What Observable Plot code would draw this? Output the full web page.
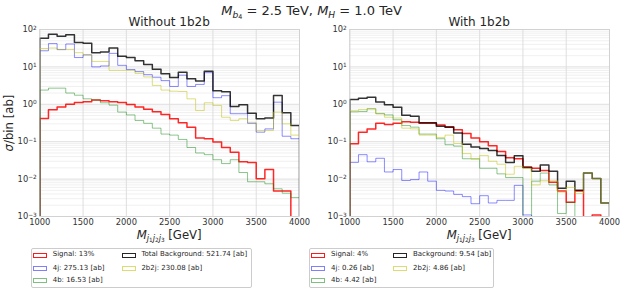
<!DOCTYPE html>
<html><head><meta charset="utf-8">
<script src="https://cdn.jsdelivr.net/npm/d3@7"></script>
<script src="https://cdn.jsdelivr.net/npm/@observablehq/plot@0.6"></script>
<style>
html,body{margin:0;padding:0;background:#fff;}
#fig{position:relative;width:623px;height:292px;font-family:"DejaVu Sans",sans-serif;color:#262626;overflow:hidden;background:#fff;}
.abs{position:absolute;white-space:nowrap;line-height:1;}
.s1{font-size:70%;position:relative;top:0.28em;}
.s2{font-size:70%;position:relative;top:0.2em;}
.leg{position:absolute;border:1px solid #cccccc;border-radius:2px;background:rgba(255,255,255,0.8);box-sizing:border-box;}
.lh{position:absolute;width:14px;height:5px;box-sizing:border-box;border-width:1px;border-style:solid;}
.lt{position:absolute;font-size:7px;line-height:1;white-space:nowrap;color:#262626;font-family:"DejaVu Sans";}
</style></head>
<body>
<div id="fig"></div>
<script>
// ---------- data ----------
const binEdges = [1000,1100,1200,1300,1400,1500,1600,1700,1800,1900,2000,2100,2200,2300,2400,2500,2600,2700,2800,2900,3000,3100,3200,3300,3400,3500,3600,3700,3800,3900,4000];

// Left panel: Without 1b2b
const sigWithout  = [0.42,0.72,0.85,1.0,1.11,1.17,1.3,1.24,1.17,1.11,0.99,0.85,0.74,0.63,0.53,0.41,0.32,0.245,0.126,0.12,0.098,0.07,0.052,0.029,0.028,0.0102,0.018,0.0048,0.0048,0];
const j4Without   = [27,42,29,41,17.8,21,10,10.6,23,11,8.5,7.5,6.2,5.3,4.3,3.0,6.0,3.0,3.4,7.0,1.5,1.7,0.56,0.56,0.31,0.18,0.22,1.14,0.14,0.12];
const b4Without   = [2.4,2.7,2.7,2.0,1.75,1.4,1.3,1.1,0.95,0.62,0.52,0.37,0.31,0.23,0.16,0.15,0.115,0.07,0.05,0.045,0.033,0.026,0.033,0.015,0.0085,0.0085,0.0075,0.0055,0.0042,0.0032];
const bkgWithout  = [58,75,66,72,45,43,24,25,32,19.4,17.9,14.5,11.6,8.7,6.6,5.2,7.2,4.8,4.2,7.7,2.3,2.15,0.87,0.97,0.58,0.41,0.43,1.72,0.59,0.27];
const b2j2Without = [31,32,29,29,24,21,14,14,8.1,8.1,8.1,6.7,5.4,3.2,2.4,2.24,2.2,1.4,0.68,1.1,0.93,0.45,0.37,0.41,0.33,0.2,0.2,0.62,0.3,0.15];

// Right panel: With 1b2b
const sigWith  = [0.088,0.18,0.22,0.31,0.29,0.31,0.34,0.33,0.31,0.31,0.28,0.25,0.21,0.165,0.125,0.1,0.078,0.055,0.037,0.035,0.021,0.0195,0.017,0.0083,0.0048,0.0024,0.0048,0,0.0011,0];
const j4With   = [0.028,0.045,0.029,0.036,0.0155,0.018,0.0092,0.0097,0.0155,0.0088,0.005,0.0048,0.0039,0.0034,0.0022,0.0036,0.0023,0.0027,0.0027,0.0068,0.0011,0,0,0,0,0,0,0,0,0];
const b4With   = [0.63,0.64,0.76,0.57,0.52,0.385,0.27,0.245,0.16,0.16,0.12,0.083,0.076,0.035,0.035,0.0195,0.0195,0.0138,0.011,0.011,0,0.0088,0.0145,0.007,0.0012,0.0024,0,0,0,0];
const bkgWith  = [1.34,1.45,1.55,1.15,0.98,0.83,0.51,0.48,0.32,0.32,0.26,0.245,0.17,0.085,0.072,0.066,0.058,0.043,0.028,0.042,0.0205,0.0163,0.024,0.0163,0.0057,0.0087,0.005,0.0146,0.0104,0.0023];
const b2j2With = [0.67,0.72,0.76,0.55,0.45,0.43,0.23,0.22,0.15,0.15,0.13,0.15,0.09,0.048,0.034,0.043,0.03,0.025,0.0135,0.022,0.0195,0.007,0.009,0.009,0.0045,0.006,0.0041,0.0146,0.0104,0.0023];

// ticks / labels
const xTicks = [1000,1500,2000,2500,3000,3500,4000];
const yTicks = [1e-3,1e-2,1e-1,1,10,100];
const yTickExps = ["\u22123","\u22122","\u22121","0","1","2"];
const legendWithout = ["Signal: 13%","4j: 275.13 [ab]","4b: 16.53 [ab]","Total Background: 521.74 [ab]","2b2j: 230.08 [ab]"];
const legendWith    = ["Signal: 4%","4j: 0.26 [ab]","4b: 4.42 [ab]","Background: 9.54 [ab]","2b2j: 4.86 [ab]"];

// ---------- styling ----------
const styles = {
  sig:  {stroke:"#ff0000", strokeWidth:1.5, strokeOpacity:0.85},
  j4:   {stroke:"#0000ff", strokeWidth:1,   strokeOpacity:0.45},
  b4:   {stroke:"#008000", strokeWidth:1,   strokeOpacity:0.45},
  bkg:  {stroke:"#000000", strokeWidth:1.5, strokeOpacity:0.8},
  b2j2: {stroke:"#bfbf00", strokeWidth:1,   strokeOpacity:0.5}
};
const FLOOR = 1e-5;
const minorY = [];
for (let e = -3; e < 2; e++) for (let m = 2; m <= 9; m++) minorY.push(m * Math.pow(10, e));
const tickExp = new Map(yTicks.map((t, i) => [t, yTickExps[i]]));

function steps(vals) {
  const pts = [{x: binEdges[0], y: FLOOR}];
  vals.forEach((v, i) => {
    const y = v > 0 ? v : FLOOR;
    pts.push({x: binEdges[i], y}, {x: binEdges[i + 1], y});
  });
  pts.push({x: binEdges[binEdges.length - 1], y: FLOOR});
  return pts;
}

function panel(series, width, marginRight) {
  const order = ["sig","j4","b4","bkg","b2j2"];
  const svg = Plot.plot({
    width, height: 245,
    marginLeft: 39.3, marginRight, marginTop: 29, marginBottom: 29,
    x: {domain: [1000, 4000], label: null},
    y: {type: "log", domain: [1e-3, 1e2], label: null},
    style: {fontFamily: "DejaVu Sans", fontSize: "8.33px", color: "#333", background: "transparent", overflow: "visible"},
    marks: [
      Plot.ruleY(minorY, {stroke: "#e9e9e9", strokeWidth: 0.7}),
      Plot.ruleY(yTicks, {stroke: "#d6d6d6", strokeWidth: 0.8}),
      Plot.ruleX(xTicks, {stroke: "#dadada", strokeWidth: 0.9}),
      ...order.map(k => Plot.line(steps(series[k]), {x: "x", y: "y", ...styles[k], clip: true})),
      Plot.frame({stroke: "#cfcfcf", strokeWidth: 0.8}),
      Plot.axisX({ticks: xTicks, tickSize: 0, tickPadding: 3, tickFormat: d => String(d), label: null}),
      Plot.axisY({ticks: yTicks, tickSize: 0, tickPadding: 3, tickFormat: d => "10^" + tickExp.get(d), label: null})
    ]
  });
  // render exponents as real superscripts
  d3.select(svg).selectAll("text").each(function() {
    const s = this.textContent;
    if (s.startsWith("10^")) {
      const sel = d3.select(this);
      sel.text("10");
      sel.append("tspan").attr("dy", "-0.45em").attr("font-size", "70%").text(s.slice(3));
    }
  });
  return svg;
}

const fig = document.getElementById("fig");

function place(el, left, top) {
  el.style.position = "absolute";
  el.style.left = left + "px";
  el.style.top = top + "px";
  fig.appendChild(el);
}

place(panel({sig: sigWithout, j4: j4Without, b4: b4Without, bkg: bkgWithout, b2j2: b2j2Without}, 310, 11), 0, 0);
place(panel({sig: sigWith, j4: j4With, b4: b4With, bkg: bkgWith, b2j2: b2j2With}, 313, 14), 310, 0);

function text(html, left, top, size, center) {
  const d = document.createElement("div");
  d.className = "abs";
  d.style.fontSize = size + "px";
  d.innerHTML = html;
  d.style.left = left + "px";
  d.style.top = top + "px";
  if (center) d.style.transform = "translateX(-50%)";
  fig.appendChild(d);
  return d;
}

text('<i>M</i><span class="s1"><i>b</i><span class="s2">4</span></span> = 2.5 TeV, <i>M</i><span class="s1"><i>H</i></span> = 1.0 TeV', 311.5, 4.3, 13, true);
text('Without 1b2b', 169.2, 15.6, 12, true);
text('With 1b2b', 479.2, 15.6, 12, true);
const xl = '<i>M</i><span class="s1"><i>j</i><span class="s2">1</span><i>j</i><span class="s2">2</span><i>j</i><span class="s2">3</span></span> [GeV]';
text(xl, 169.2, 230, 11.7, true);
text(xl, 479.2, 230, 11.7, true);
const yl = text('<i>\u03C3</i>/bin [ab]', 10, 122.5, 11.7, false);
yl.style.transform = "translate(-50%,-50%) rotate(-90deg)";

function legend(labels, left, width, col2Off) {
  const box = document.createElement("div");
  box.className = "leg";
  box.style.left = left + "px"; box.style.top = "248.3px";
  box.style.width = width + "px"; box.style.height = "40px";
  fig.appendChild(box);
  const keys = ["sig","j4","b4","bkg","b2j2"];
  const rows = [255, 268.3, 280.7];
  keys.forEach((k, i) => {
    const col = i < 3 ? 0 : 1, row = i < 3 ? i : i - 3;
    const x0 = left + 2 + (col ? col2Off : 0);
    const h = document.createElement("div");
    h.className = "lh";
    h.style.left = x0 + "px"; h.style.top = (rows[row] - 2.5) + "px";
    h.style.borderColor = styles[k].stroke;
    h.style.opacity = Math.min(1, styles[k].strokeOpacity + 0.05);
    fig.appendChild(h);
    const t = document.createElement("div");
    t.className = "lt";
    t.textContent = labels[i];
    t.style.left = (x0 + 19.7) + "px"; t.style.top = (rows[row] - 3.8) + "px";
    fig.appendChild(t);
  });
}
legend(legendWithout, 31, 221, 88.7);
legend(legendWith, 309.3, 185, 82);
</script>
</body></html>
